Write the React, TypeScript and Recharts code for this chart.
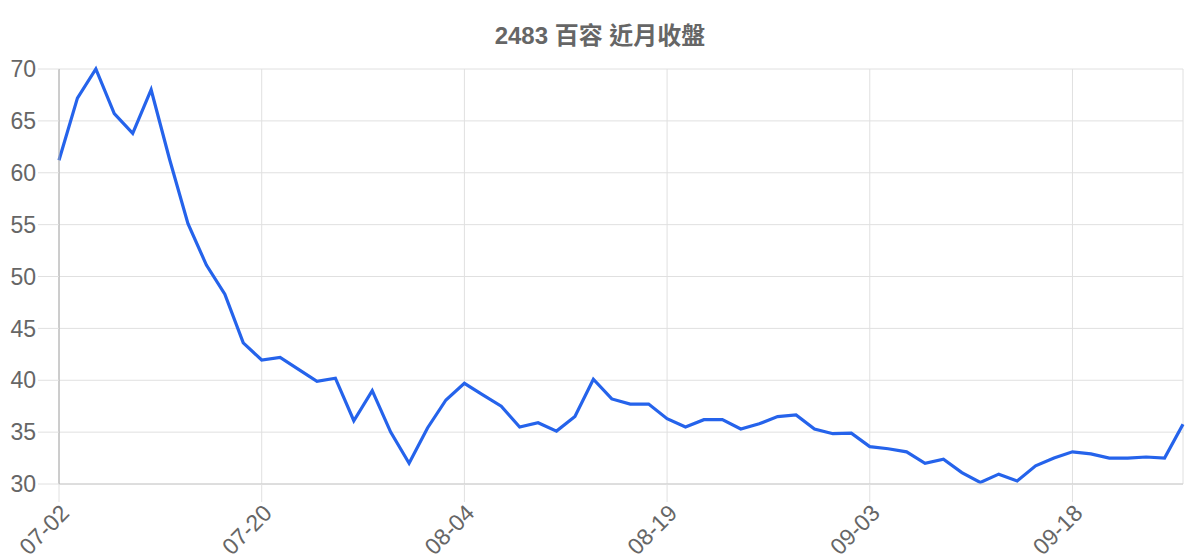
import React from "react"
import { LineChart, Line, XAxis, YAxis, CartesianGrid } from "recharts"

// trading days (MM-DD)
const dates = [
  "07-02", "07-03", "07-06", "07-07", "07-08", "07-09", "07-10", "07-13", "07-14", "07-15",
  "07-16", "07-20", "07-21", "07-22", "07-23", "07-24", "07-27", "07-28", "07-29", "07-30",
  "07-31", "08-03", "08-04", "08-05", "08-06", "08-07", "08-10", "08-11", "08-12", "08-13",
  "08-14", "08-17", "08-18", "08-19", "08-20", "08-21", "08-24", "08-25", "08-26", "08-27",
  "08-28", "08-31", "09-01", "09-02", "09-03", "09-04", "09-07", "09-08", "09-09", "09-10",
  "09-11", "09-14", "09-15", "09-16", "09-17", "09-18", "09-21", "09-22", "09-23", "09-24",
  "09-25", "09-28",
]

// closing prices
const closes = [
  61.2, 67.2, 70.0, 65.7, 63.8, 68.0, 61.3, 55.1, 51.1, 48.3,
  43.6, 41.95, 42.2, 41.05, 39.9, 40.2, 36.1, 39.0, 35.0, 32.0,
  35.4, 38.1, 39.7, 38.6, 37.5, 35.5, 35.9, 35.1, 36.5, 40.1,
  38.2, 37.7, 37.7, 36.3, 35.5, 36.2, 36.2, 35.3, 35.8, 36.5,
  36.65, 35.3, 34.85, 34.9, 33.6, 33.4, 33.1, 32.0, 32.4, 31.1,
  30.15, 30.95, 30.3, 31.75, 32.5, 33.1, 32.9, 32.5, 32.5, 32.6,
  32.5, 35.75,
]

const yTicks = [30, 35, 40, 45, 50, 55, 60, 65, 70]

const TITLE = "2483 百容 近月收盤"
const FONT = '"Liberation Sans", Arial, "Noto Sans CJK TC", sans-serif'

const data = dates.map((date, i) => ({ date, close: closes[i] }))

export default function App() {
  return (
    <div style={{ position: "absolute", left: 0, top: 0, width: 1200, height: 560, background: "#fff", fontFamily: FONT }}>
      <div
        style={{
          position: "absolute",
          top: 24,
          left: 0,
          width: 1200,
          textAlign: "center",
          fontSize: 24,
          lineHeight: "24px",
          fontWeight: "bold",
          color: "#666",
        }}
      >
        {TITLE}
      </div>
      <LineChart width={1200} height={560} data={data} margin={{ top: 69, right: 17, left: 0, bottom: 0 }}>
        <CartesianGrid stroke="#e0e0e0" />
        <XAxis
          dataKey="date"
          interval={10}
          height={76}
          tickSize={18}
          tickMargin={1}
          angle={-45}
          textAnchor="end"
          axisLine={{ stroke: "#cccccc" }}
          tickLine={{ stroke: "#e0e0e0" }}
          tick={{ fill: "#666", fontSize: 23, fontFamily: FONT }}
        />
        <YAxis
          width={59}
          domain={[30, 70]}
          ticks={yTicks}
          tickSize={21}
          tickMargin={2}
          axisLine={{ stroke: "#aaaaaa" }}
          tickLine={{ stroke: "#e0e0e0" }}
          tick={{ fill: "#666", fontSize: 23, fontFamily: FONT }}
        />
        <Line
          type="linear"
          dataKey="close"
          stroke="#2563eb"
          strokeWidth={3.2}
          dot={false}
          isAnimationActive={false}
        />
      </LineChart>
    </div>
  )
}
